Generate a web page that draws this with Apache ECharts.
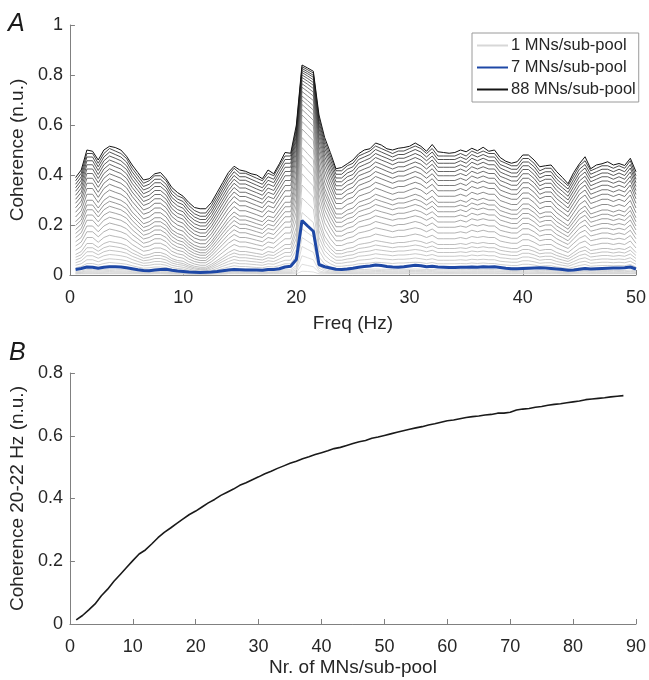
<!DOCTYPE html>
<html>
<head>
<meta charset="utf-8">
<script src="https://cdn.jsdelivr.net/npm/echarts@6/dist/echarts.min.js"></script>
<style>
html,body{margin:0;padding:0;background:#fff;}
#chart{width:649px;height:680px;}
</style>
</head>
<body>
<div id="chart"></div>
<script>
// ---------- Panel A: frequency bins (Hz) ----------
const freqHz = [0.5,1,1.5,2,2.5,3,3.5,4,4.5,5,5.5,6,6.5,7,7.5,8,8.5,9,9.5,10,10.5,11,11.5,12,12.5,13,13.5,14,14.5,15,15.5,16,16.5,17,17.5,18,18.5,19,19.5,20,20.5,21,21.5,22,22.5,23,23.5,24,24.5,25,25.5,26,26.5,27,27.5,28,28.5,29,29.5,30,30.5,31,31.5,32,32.5,33,33.5,34,34.5,35,35.5,36,36.5,37,37.5,38,38.5,39,39.5,40,40.5,41,41.5,42,42.5,43,43.5,44,44.5,45,45.5,46,46.5,47,47.5,48,48.5,49,49.5,50];

// ---------- Panel A: coherence x 1000, one array per sub-pool size ----------
const coh_mn01 = [4,5,5,5,5,5,5,5,5,5, 5,5,4,4,5,5,4,4,4,4, 4,4,4,4,4,4,4,5,5,5, 5,5,5,4,5,5,5,5,5,5, 15,14,12,5,5,5,5,5,5,5, 5,5,5,5,5,5,5,5,5,5, 5,5,5,5,5,5,5,5,5,5, 5,5,5,5,5,5,5,5,5,5, 5,5,5,5,5,5,4,4,5,5, 5,5,5,5,5,5,5,5,5,5];
const coh_mn02 = [6,6,7,7,6,7,7,7,7,7, 6,6,6,6,6,6,6,5,5,5, 5,4,4,4,5,5,5,6,6,6, 6,6,6,6,6,6,6,7,7,9, 43,38,33,11,8,7,6,6,6,6, 7,7,7,7,7,7,7,7,7,7, 7,7,7,7,7,7,7,7,7,7, 7,7,7,7,7,6,6,6,6,7, 7,6,6,6,6,6,6,5,6,6, 6,6,6,6,6,6,6,6,6,6];
const coh_mn03 = [7,7,9,9,8,9,9,9,9,8, 8,7,6,7,7,7,7,6,5,5, 4,4,4,4,4,5,6,7,8,7, 7,7,7,7,7,7,8,9,9,14, 77,69,61,17,11,9,7,7,8,8, 9,9,9,9,9,9,9,9,9,9, 9,9,9,9,9,9,9,9,9,9, 9,9,9,9,9,8,8,8,8,8, 8,8,7,8,8,7,7,6,7,8, 8,7,8,8,8,8,8,8,8,7];
const coh_mn04 = [9,10,13,13,11,13,14,13,13,12, 11,10,9,9,10,10,9,7,7,6, 5,5,4,4,5,7,8,10,11,10, 10,10,9,9,10,10,11,12,12,21, 114,102,91,27,16,12,10,10,11,11, 12,13,13,14,14,13,13,13,13,14, 14,14,13,14,12,12,12,12,13,12, 13,13,13,13,13,12,11,11,11,12, 12,11,10,11,11,10,9,8,10,11, 12,10,11,11,11,11,11,11,12,10];
const coh_mn05 = [11,12,17,17,15,17,18,17,17,16, 13,12,10,11,12,12,11,9,8,7, 6,5,4,4,6,8,10,12,13,12, 12,12,11,11,12,12,14,16,16,29, 150,135,121,36,22,16,13,13,14,15, 16,17,17,18,18,17,17,17,17,18, 18,18,17,18,16,16,16,16,17,16, 17,17,17,17,17,15,15,14,14,16, 16,15,13,13,13,12,11,10,12,14, 15,13,13,14,14,13,14,13,15,12];
const coh_mn06 = [14,16,22,22,19,22,23,23,22,21, 18,16,13,14,16,16,14,11,10,9, 7,6,5,5,7,10,13,16,18,16, 16,16,15,14,16,16,18,21,21,38, 185,168,152,48,29,21,17,17,18,19, 21,22,23,24,23,23,22,23,23,23, 24,23,22,23,21,21,21,21,22,21, 23,22,23,22,22,20,19,18,18,21, 21,19,17,18,18,16,14,13,16,18, 20,17,18,18,18,18,18,18,20,16];
const coh_mn07 = [22,26,32,31,27,31,33,33,32,29, 25,21,18,17,20,22,23,19,16,14, 12,11,10,11,12,14,17,20,22,21, 20,20,20,19,22,22,25,32,35,62, 218,196,175,42,33,28,23,22,24,27, 31,34,36,40,38,34,32,31,33,36, 39,37,33,35,32,31,30,30,31,31, 32,31,33,32,33,30,27,25,25,26, 27,28,29,28,26,24,22,19,20,23, 26,24,25,26,27,28,28,29,32,24];
const coh_mn08 = [21,24,33,33,29,33,36,35,33,31, 27,23,20,21,23,23,21,16,14,13, 10,7,6,6,10,14,19,23,27,24, 24,23,22,21,24,23,28,32,32,58, 250,230,210,72,44,32,25,25,28,29, 32,33,35,37,36,35,33,35,35,36, 37,36,33,36,32,32,32,32,33,32, 35,33,35,33,33,30,29,28,28,31, 31,29,25,27,27,23,21,19,23,28, 30,25,27,28,28,27,28,27,30,23];
const coh_mn10 = [29,34,46,46,40,46,50,48,46,43, 37,32,27,29,32,32,29,23,19,18, 13,10,8,8,13,19,26,32,37,34, 34,32,30,29,34,32,38,45,45,79, 308,286,264,98,60,45,35,35,38,40, 45,46,48,51,50,48,46,48,48,50, 51,50,46,50,45,45,45,45,46,45, 48,46,48,46,46,42,40,38,38,43, 43,40,35,37,37,32,29,26,32,38, 42,35,37,38,38,37,38,37,42,32];
const coh_mn12 = [39,45,61,61,53,61,65,63,61,57, 49,43,37,39,43,43,39,30,26,24, 18,14,12,12,18,26,35,43,49,45, 45,43,41,39,45,43,51,59,59,102, 360,336,312,125,79,59,47,47,51,53, 59,61,63,68,65,63,61,63,63,65, 68,65,61,65,59,59,59,59,61,59, 63,61,63,61,61,55,53,51,51,57, 57,53,47,49,49,43,39,35,43,51, 55,47,49,51,51,49,51,49,55,43];
const coh_mn14 = [49,57,77,77,67,77,82,80,77,72, 62,54,47,49,54,54,49,39,34,31, 24,18,16,16,24,34,44,54,62,57, 57,54,52,49,57,54,64,75,75,125, 405,380,356,151,98,75,59,59,64,67, 75,77,80,85,82,80,77,80,80,82, 85,82,77,82,75,75,75,75,77,75, 80,77,80,77,77,69,67,64,64,72, 72,67,59,62,62,54,49,44,54,64, 69,59,62,64,64,62,64,62,69,54];
const coh_mn16 = [60,69,93,93,81,93,99,96,93,87, 75,66,57,60,66,66,60,48,42,39, 30,24,21,21,30,42,54,66,75,69, 69,66,63,60,69,66,78,90,90,148, 444,419,395,177,118,90,72,72,78,81, 90,93,96,102,99,96,93,96,96,99, 102,99,93,99,90,90,90,90,93,90, 96,93,96,93,93,84,81,78,78,87, 87,81,72,75,75,66,60,54,66,78, 84,72,75,78,78,75,78,75,84,66];
const coh_mn18 = [71,81,109,109,95,109,116,113,109,102, 88,78,67,71,78,78,71,57,50,46, 36,29,25,25,36,50,64,78,88,81, 81,78,74,71,81,78,92,106,106,170, 479,454,429,203,137,106,85,85,92,95, 106,109,113,120,116,113,109,113,113,116, 120,116,109,116,106,106,106,106,109,106, 113,109,113,109,109,99,95,92,92,102, 102,95,85,88,88,78,71,64,78,92, 99,85,88,92,92,88,92,88,99,78];
const coh_mn20 = [82,94,126,126,110,126,134,130,126,118, 102,90,78,82,90,90,82,66,58,55, 43,35,31,31,43,58,74,90,102,94, 94,90,86,82,94,90,106,122,122,192, 510,485,461,227,156,122,98,98,106,110, 122,126,130,138,134,130,126,130,130,134, 138,134,126,134,122,122,122,122,126,122, 130,126,130,126,126,114,110,106,106,118, 118,110,98,102,102,90,82,74,90,106, 114,98,102,106,106,102,106,102,114,90];
const coh_mn23 = [99,113,150,150,131,150,159,154,150,141, 122,108,95,99,108,108,99,81,72,67, 53,44,39,39,53,72,90,108,122,113, 113,108,104,99,113,108,127,145,145,224, 550,526,502,261,184,145,118,118,127,131, 145,150,154,164,159,154,150,154,154,159, 164,159,150,159,145,145,145,145,150,145, 154,150,154,150,150,136,131,127,127,141, 141,131,118,122,122,108,99,90,108,127, 136,118,122,127,127,122,127,122,136,108];
const coh_mn26 = [116,132,173,173,153,173,184,179,173,163, 142,127,111,116,127,127,116,95,85,80, 64,54,49,49,64,85,106,127,142,132, 132,127,121,116,132,127,147,168,168,254, 584,561,537,293,210,168,137,137,147,153, 168,173,179,189,184,179,173,179,179,184, 189,184,173,184,168,168,168,168,173,168, 179,173,179,173,173,158,153,147,147,163, 163,153,137,142,142,127,116,106,127,147, 158,137,142,147,147,142,147,142,158,127];
const coh_mn29 = [133,150,196,196,173,196,208,202,196,185, 162,145,127,133,145,145,133,110,99,93, 76,64,58,58,76,99,122,145,162,150, 150,145,139,133,150,145,168,191,191,282, 614,591,568,323,236,191,156,156,168,173, 191,196,202,214,208,202,196,202,202,208, 214,208,196,208,191,191,191,191,196,191, 202,196,202,196,196,179,173,168,168,185, 185,173,156,162,162,145,133,122,145,168, 179,156,162,168,168,162,168,162,179,145];
const coh_mn32 = [150,169,219,219,194,219,231,225,219,206, 181,162,144,150,162,162,150,125,112,106, 87,75,68,68,87,112,137,162,181,169, 169,162,156,150,169,162,187,212,212,308, 640,618,595,351,261,212,175,175,187,194, 212,219,225,237,231,225,219,225,225,231, 237,231,219,231,212,212,212,212,219,212, 225,219,225,219,219,200,194,187,187,206, 206,194,175,181,181,162,150,137,162,187, 200,175,181,187,187,181,187,181,200,162];
const coh_mn35 = [166,186,240,240,213,240,253,247,240,227, 200,180,159,166,180,180,166,139,126,119, 99,86,79,79,99,126,153,180,200,186, 186,180,173,166,186,180,206,233,233,334, 662,641,619,377,284,233,193,193,206,213, 233,240,247,260,253,247,240,247,247,253, 260,253,240,253,233,233,233,233,240,233, 247,240,247,240,240,220,213,206,206,227, 227,213,193,200,200,180,166,153,180,206, 220,193,200,206,206,200,206,200,220,180];
const coh_mn38 = [182,203,261,261,232,261,275,268,261,246, 218,196,175,182,196,196,182,154,139,132, 111,97,89,89,111,139,168,196,218,203, 203,196,189,182,203,196,225,253,253,357, 682,662,641,401,306,253,211,211,225,232, 253,261,268,282,275,268,261,268,268,275, 282,275,261,275,253,253,253,253,261,253, 268,261,268,261,261,239,232,225,225,246, 246,232,211,218,218,196,182,168,196,225, 239,211,218,225,225,218,225,218,239,196];
const coh_mn41 = [198,220,280,280,250,280,295,288,280,265, 235,213,190,198,213,213,198,168,153,145, 123,108,100,100,123,153,183,213,235,220, 220,213,205,198,220,213,243,273,273,379, 700,680,660,424,327,273,228,228,243,250, 273,280,288,303,295,288,280,288,288,295, 303,295,280,295,273,273,273,273,280,273, 288,280,288,280,280,258,250,243,243,265, 265,250,228,235,235,213,198,183,213,243, 258,228,235,243,243,235,243,235,258,213];
const coh_mn44 = [213,236,299,299,268,299,315,307,299,284, 252,229,205,213,229,229,213,181,166,158, 134,119,111,111,134,166,197,229,252,236, 236,229,221,213,236,229,260,291,291,400, 716,697,677,444,347,291,244,244,260,268, 291,299,307,323,315,307,299,307,307,315, 323,315,299,315,291,291,291,291,299,291, 307,299,307,299,299,276,268,260,260,284, 284,268,244,252,252,229,213,197,229,260, 276,244,252,260,260,252,260,252,276,229];
const coh_mn48 = [232,257,323,323,290,323,340,331,323,307, 274,249,224,232,249,249,232,199,183,175, 150,133,125,125,150,183,216,249,274,257, 257,249,241,232,257,249,282,315,315,425, 734,716,698,470,372,315,265,265,282,290, 315,323,331,348,340,331,323,331,331,340, 348,340,323,340,315,315,315,315,323,315, 331,323,331,323,323,298,290,282,282,307, 307,290,265,274,274,249,232,216,249,282, 298,265,274,282,282,274,282,274,298,249];
const coh_mn52 = [251,277,346,346,311,346,363,354,346,328, 294,268,243,251,268,268,251,217,200,191, 165,148,140,140,165,200,234,268,294,277, 277,268,260,251,277,268,303,337,337,449, 751,734,716,494,396,337,286,286,303,311, 337,346,354,371,363,354,346,354,354,363, 371,363,346,363,337,337,337,337,346,337, 354,346,354,346,346,320,311,303,303,328, 328,311,286,294,294,268,251,234,268,303, 320,286,294,303,303,294,303,294,320,268];
const coh_mn56 = [269,296,367,367,331,367,385,376,367,349, 314,287,260,269,287,287,269,234,216,207, 181,163,154,154,181,216,252,287,314,296, 296,287,278,269,296,287,323,358,358,471, 765,749,732,515,418,358,305,305,323,331, 358,367,376,394,385,376,367,376,376,385, 394,385,367,385,358,358,358,358,367,358, 376,367,376,367,367,340,331,323,323,349, 349,331,305,314,314,287,269,252,287,323, 340,305,314,323,323,314,323,314,340,287];
const coh_mn60 = [287,314,387,387,351,387,405,396,387,369, 332,305,278,287,305,305,287,250,232,223, 195,177,168,168,195,232,268,305,332,314, 314,305,296,287,314,305,341,378,378,491, 778,763,746,535,438,378,323,323,341,351, 378,387,396,414,405,396,387,396,396,405, 414,405,387,405,378,378,378,378,387,378, 396,387,396,387,387,360,351,341,341,369, 369,351,323,332,332,305,287,268,305,341, 360,323,332,341,341,332,341,332,360,305];
const coh_mn64 = [303,331,406,406,369,406,425,415,406,387, 350,322,294,303,322,322,303,266,247,238, 210,191,182,182,210,247,285,322,350,331, 331,322,313,303,331,322,359,397,397,510, 790,775,759,554,457,397,341,341,359,369, 397,406,415,434,425,415,406,415,415,425, 434,425,406,425,397,397,397,397,406,397, 415,406,415,406,406,378,369,359,359,387, 387,369,341,350,350,322,303,285,322,359, 378,341,350,359,359,350,359,350,378,322];
const coh_mn68 = [319,348,424,424,386,424,443,433,424,405, 367,338,310,319,338,338,319,281,262,253, 224,205,196,196,224,262,300,338,367,348, 348,338,329,319,348,338,376,414,414,528, 800,786,770,571,475,414,357,357,376,386, 414,424,433,452,443,433,424,433,433,443, 452,443,424,443,414,414,414,414,424,414, 433,424,433,424,424,395,386,376,376,405, 405,386,357,367,367,338,319,300,338,376, 395,357,367,376,376,367,376,367,395,338];
const coh_mn72 = [335,364,441,441,402,441,460,451,441,422, 383,354,325,335,354,354,335,296,277,267, 238,219,209,209,238,277,315,354,383,364, 364,354,344,335,364,354,393,431,431,544, 810,796,781,587,492,431,373,373,393,402, 431,441,451,470,460,451,441,451,451,460, 470,460,441,460,431,431,431,431,441,431, 451,441,451,441,441,412,402,393,393,422, 422,402,373,383,383,354,335,315,354,393, 412,373,383,393,393,383,393,383,412,354];
const coh_mn76 = [349,379,457,457,418,457,476,467,457,437, 398,369,340,349,369,369,349,310,291,281, 252,232,222,222,252,291,330,369,398,379, 379,369,359,349,379,369,408,447,447,559, 818,805,791,601,508,447,388,388,408,418, 447,457,467,486,476,467,457,467,467,476, 486,476,457,476,447,447,447,447,457,447, 467,457,467,457,457,428,418,408,408,437, 437,418,388,398,398,369,349,330,369,408, 428,388,398,408,408,398,408,398,428,369];
const coh_mn80 = [363,393,472,472,433,472,492,482,472,452, 413,383,354,363,383,383,363,324,304,294, 265,245,235,235,265,304,344,383,413,393, 393,383,373,363,393,383,423,462,462,574, 826,813,799,615,523,462,403,403,423,433, 462,472,482,502,492,482,472,482,482,492, 502,492,472,492,462,462,462,462,472,462, 482,472,482,472,472,442,433,423,423,452, 452,433,403,413,413,383,363,344,383,423, 442,403,413,423,423,413,423,413,442,383];
const coh_mn84 = [377,407,486,486,447,486,506,496,486,466, 427,397,367,377,397,397,377,337,317,307, 278,258,248,248,278,317,357,397,427,407, 407,397,387,377,407,397,437,476,476,587, 833,821,808,628,537,476,417,417,437,447, 476,486,496,516,506,496,486,496,496,506, 516,506,486,506,476,476,476,476,486,476, 496,486,496,486,486,457,447,437,437,466, 466,447,417,427,427,397,377,357,397,437, 457,417,427,437,437,427,437,427,457,397];
const coh_mn88 = [390,420,500,495,460,500,515,510,500,475, 440,410,380,385,405,410,385,350,330,315, 290,270,265,265,290,330,370,410,435,420, 415,405,400,385,420,405,445,490,487,600, 840,828,815,640,550,490,425,430,445,460, 485,500,505,528,520,505,500,507,510,515, 528,515,495,522,493,490,487,490,500,493, 507,497,511,495,500,470,455,447,453,480, 480,460,433,437,440,413,390,365,410,445, 473,425,440,445,453,440,446,438,467,413];

// ---------- Panel B ----------
const mnPerSubPool = [1,2,3,4,5,6,7,8,9,10,11,12,13,14,15,16,17,18,19,20,21,22,23,24,25,26,27,28,29,30,31,32,33,34,35,36,37,38,39,40,41,42,43,44,45,46,47,48,49,50,51,52,53,54,55,56,57,58,59,60,61,62,63,64,65,66,67,68,69,70,71,72,73,74,75,76,77,78,79,80,81,82,83,84,85,86,87,88];
const coh20to22 = [0.013,0.027,0.045,0.064,0.090,0.111,0.136,0.158,0.180,0.202,0.223,0.236,0.255,0.275,0.292,0.306,0.321,0.335,0.349,0.360,0.373,0.386,0.397,0.410,0.420,0.430,0.442,0.450,0.460,0.469,0.479,0.487,0.496,0.504,0.512,0.519,0.527,0.533,0.540,0.546,0.552,0.559,0.563,0.569,0.575,0.581,0.585,0.592,0.596,0.601,0.606,0.611,0.616,0.621,0.625,0.629,0.634,0.638,0.643,0.648,0.650,0.654,0.658,0.661,0.663,0.666,0.668,0.672,0.672,0.675,0.682,0.685,0.687,0.691,0.693,0.697,0.700,0.702,0.705,0.708,0.711,0.715,0.717,0.719,0.721,0.724,0.726,0.728];

// ---------- Ticks ----------
const freqTicks = [0,10,20,30,40,50];
const cohTicksA = [0,0.2,0.4,0.6,0.8,1];
const mnTicks = [0,10,20,30,40,50,60,70,80,90];
const cohTicksB = [0,0.2,0.4,0.6,0.8];

// grey family (sub-pool size, values)
const greyLines = [
  [1,coh_mn01],[2,coh_mn02],[3,coh_mn03],[4,coh_mn04],[5,coh_mn05],[6,coh_mn06],[8,coh_mn08],
  [10,coh_mn10],[12,coh_mn12],[14,coh_mn14],[16,coh_mn16],[18,coh_mn18],[20,coh_mn20],[23,coh_mn23],
  [26,coh_mn26],[29,coh_mn29],[32,coh_mn32],[35,coh_mn35],[38,coh_mn38],[41,coh_mn41],[44,coh_mn44],
  [48,coh_mn48],[52,coh_mn52],[56,coh_mn56],[60,coh_mn60],[64,coh_mn64],[68,coh_mn68],[72,coh_mn72],
  [76,coh_mn76],[80,coh_mn80],[84,coh_mn84]
];

const FONT = "'Liberation Sans', Arial, Helvetica, sans-serif";
const AXC = '#808080';
const TXT = '#262626';

function greyOf(n){
  const g = Math.round(215 - (n-1)/87*195);
  return 'rgb(' + g + ',' + g + ',' + g + ')';
}
function pairs(vals){ return freqHz.map((f,i)=>[f, vals[i]/1000]); }

const series = [];
greyLines.forEach(([n, vals])=>{
  series.push({
    name: n + ' MNs/sub-pool', type:'line', xAxisIndex:0, yAxisIndex:0,
    symbol:'none', showSymbol:false, silent:true, z:2,
    lineStyle:{width:0.8, color:greyOf(n)}, itemStyle:{color:greyOf(n)},
    data: pairs(vals)
  });
});
series.push({
  name:'88 MNs/sub-pool', type:'line', xAxisIndex:0, yAxisIndex:0,
  symbol:'none', showSymbol:false, silent:true, z:3,
  lineStyle:{width:1, color:greyOf(88)}, itemStyle:{color:greyOf(88)},
  data: pairs(coh_mn88)
});
series.push({
  name:'7 MNs/sub-pool', type:'line', xAxisIndex:0, yAxisIndex:0,
  symbol:'none', showSymbol:false, silent:true, z:5,
  lineStyle:{width:3, color:'#1e48a6'}, itemStyle:{color:'#1e48a6'},
  data: pairs(coh_mn07)
});
series.push({
  name:'panelB', type:'line', xAxisIndex:1, yAxisIndex:1,
  symbol:'none', showSymbol:false, silent:true,
  lineStyle:{width:1.6, color:'#1a1a1a'},
  data: mnPerSubPool.map((n,i)=>[n, coh20to22[i]])
});

function xAx(grid, min, max, ticks, name, gap){
  return {
    gridIndex:grid, type:'value', min:min, max:max, interval:ticks[1]-ticks[0],
    name:name, nameLocation:'middle', nameGap:gap,
    nameTextStyle:{fontSize:19, color:TXT, fontFamily:FONT},
    axisLine:{show:true, onZero:false, lineStyle:{color:AXC, width:1}},
    axisTick:{show:true, inside:true, length:5, lineStyle:{color:AXC}},
    axisLabel:{fontSize:18, color:TXT, fontFamily:FONT, margin:14},
    splitLine:{show:false}
  };
}
function yAx(grid, min, max, ticks, name, gap){
  return {
    gridIndex:grid, type:'value', min:min, max:max, interval:ticks[1]-ticks[0],
    name:name, nameLocation:'middle', nameGap:gap,
    nameTextStyle:{fontSize:19, color:TXT, fontFamily:FONT},
    axisLine:{show:true, onZero:false, lineStyle:{color:AXC, width:1}},
    axisTick:{show:true, inside:true, length:5, lineStyle:{color:AXC}},
    axisLabel:{fontSize:18, color:TXT, fontFamily:FONT, margin:7},
    splitLine:{show:false}
  };
}

const option = {
  animation:false,
  backgroundColor:'#fff',
  textStyle:{fontFamily:FONT},
  grid:[
    {left:65, top:25, width:572, height:250},
    {left:65, top:373, width:572, height:251}
  ],
  xAxis:[
    xAx(0, 0, 50, freqTicks, 'Freq (Hz)', 39),
    xAx(1, 0, 90, mnTicks, 'Nr. of MNs/sub-pool', 34)
  ],
  yAxis:[
    yAx(0, 0, 1, cohTicksA, 'Coherence (n.u.)', 36),
    yAx(1, 0, 0.8, cohTicksB, 'Coherence 20-22 Hz (n.u.)', 36)
  ],
  legend:{
    data:['1 MNs/sub-pool','7 MNs/sub-pool','88 MNs/sub-pool'],
    orient:'vertical', left:472, top:33,
    itemWidth:31, itemHeight:14, itemGap:5, padding:[4,3,4,4],
    itemStyle:{opacity:0},
    borderColor:'#9a9a9a', borderWidth:1, backgroundColor:'#fff',
    selectedMode:false,
    textStyle:{fontSize:16.5, color:TXT, fontFamily:FONT, padding:[0,0,0,-2]}
  },
  graphic:[
    {type:'text', left:8, top:12, style:{text:'A', font:'italic 25px ' + FONT, fill:'#1a1a1a'}},
    {type:'text', left:9, top:341, style:{text:'B', font:'italic 25px ' + FONT, fill:'#1a1a1a'}}
  ],
  series: series
};

const chart = echarts.init(document.getElementById('chart'), null, {renderer:'canvas'});
chart.setOption(option);
</script>
</body>
</html>
